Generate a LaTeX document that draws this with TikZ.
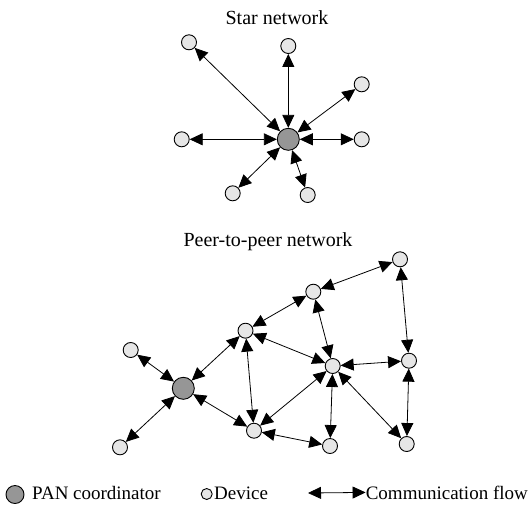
\documentclass[tikz,border=0pt]{standalone}
\usepackage{fontspec}
\setmainfont{Liberation Serif}
\usepackage{tikz}
\usetikzlibrary{arrows.meta}
\usetikzlibrary{positioning}
\definecolor{devgray}{HTML}{E6E6E6}
\definecolor{pangray}{HTML}{969696}
\tikzset{device/.style = {circle, draw, line width=0.9pt, fill=devgray,
                          minimum size=15pt, inner sep=0pt}}
\tikzset{coord/.style = {circle, draw, line width=0.9pt, fill=pangray,
                         minimum size=22pt, inner sep=0pt}}
\tikzset{flow/.style = {line width=0.8pt,
                        arrows={Triangle[length=13pt 0 0,width=12pt 0 0]-Triangle[length=13pt 0 0,width=12pt 0 0]}}}
\tikzset{txt/.style = {font=\fontsize{19}{22}\selectfont, inner sep=0pt}}
\tikzset{title/.style = {font=\fontsize{20}{24}\selectfont, inner sep=0pt}}

\begin{document}
\begin{tikzpicture}[x=1pt, y=-1pt]
      \useasboundingbox (0, 0) rectangle (529, 504);

      % star network
      \node [title, anchor=base] at (277, 24) {Star network};

      \node [coord] (sc) at (288.3, 139.3) {};
      \node [device] (s1) at (189, 42.3) {};
      \node [device] (s2) at (288.3, 46) {};
      \node [device] (s3) at (361.7, 84.3) {};
      \node [device] (s4) at (181.7, 139.3) {};
      \node [device] (s5) at (361.7, 139.3) {};
      \node [device] (s6) at (232.7, 193.3) {};
      \node [device] (s7) at (307.7, 195) {};

      \draw [flow] (sc) -- (s1);
      \draw [flow] (sc) -- (s2);
      \draw [flow] (sc) -- (s3);
      \draw [flow] (sc) -- (s4);
      \draw [flow] (sc) -- (s5);
      \draw [flow] (sc) -- (s6);
      \draw [flow] (sc) -- (s7);

      % peer-to-peer network
      \node [title, anchor=base] at (268, 246) {Peer-to-peer network};

      \node [coord] (pc) at (183.3, 388.3) {};
      \node [device] (pa) at (130.7, 350) {};
      \node [device] (pb) at (120, 447.3) {};
      \node [device] (p1) at (245.5, 330.7) {};
      \node [device] (p2) at (313.3, 291.7) {};
      \node [device] (p3) at (400, 259.3) {};
      \node [device] (p4) at (332.7, 366) {};
      \node [device] (p5) at (409, 360.7) {};
      \node [device] (p6) at (254, 430.7) {};
      \node [device] (p7) at (330, 446) {};
      \node [device] (p8) at (406.7, 444) {};

      \draw [flow] (pc) -- (pa);
      \draw [flow] (pc) -- (pb);
      \draw [flow] (pc) -- (p1);
      \draw [flow] (pc) -- (p6);
      \draw [flow] (p1) -- (p2);
      \draw [flow] (p2) -- (p3);
      \draw [flow] (p1) -- (p4);
      \draw [flow] (p1) -- (p6);
      \draw [flow] (p2) -- (p4);
      \draw [flow] (p3) -- (p5);
      \draw [flow] (p4) -- (p5);
      \draw [flow] (p4) -- (p6);
      \draw [flow] (p4) -- (p7);
      \draw [flow] (p4) -- (p8);
      \draw [flow] (p5) -- (p8);
      \draw [flow] (p6) -- (p7);

      % legend
      \node [coord, minimum size=18pt] (lc) at (15, 494.5) {};
      \node [txt, anchor=base west] (lct) at (32, 499) {PAN coordinator};
      \node [device, minimum size=11pt] (ld) at (206.7, 494) {};
      \node [txt, anchor=base west] (ldt) at (214, 499) {Device};
      \coordinate (lfa) at (308, 493);
      \node [txt, anchor=base east] (lft) at (528, 499) {Communication flow};
      \draw [flow] (lfa) -- (lft.west);
    \end{tikzpicture}
\end{document}
